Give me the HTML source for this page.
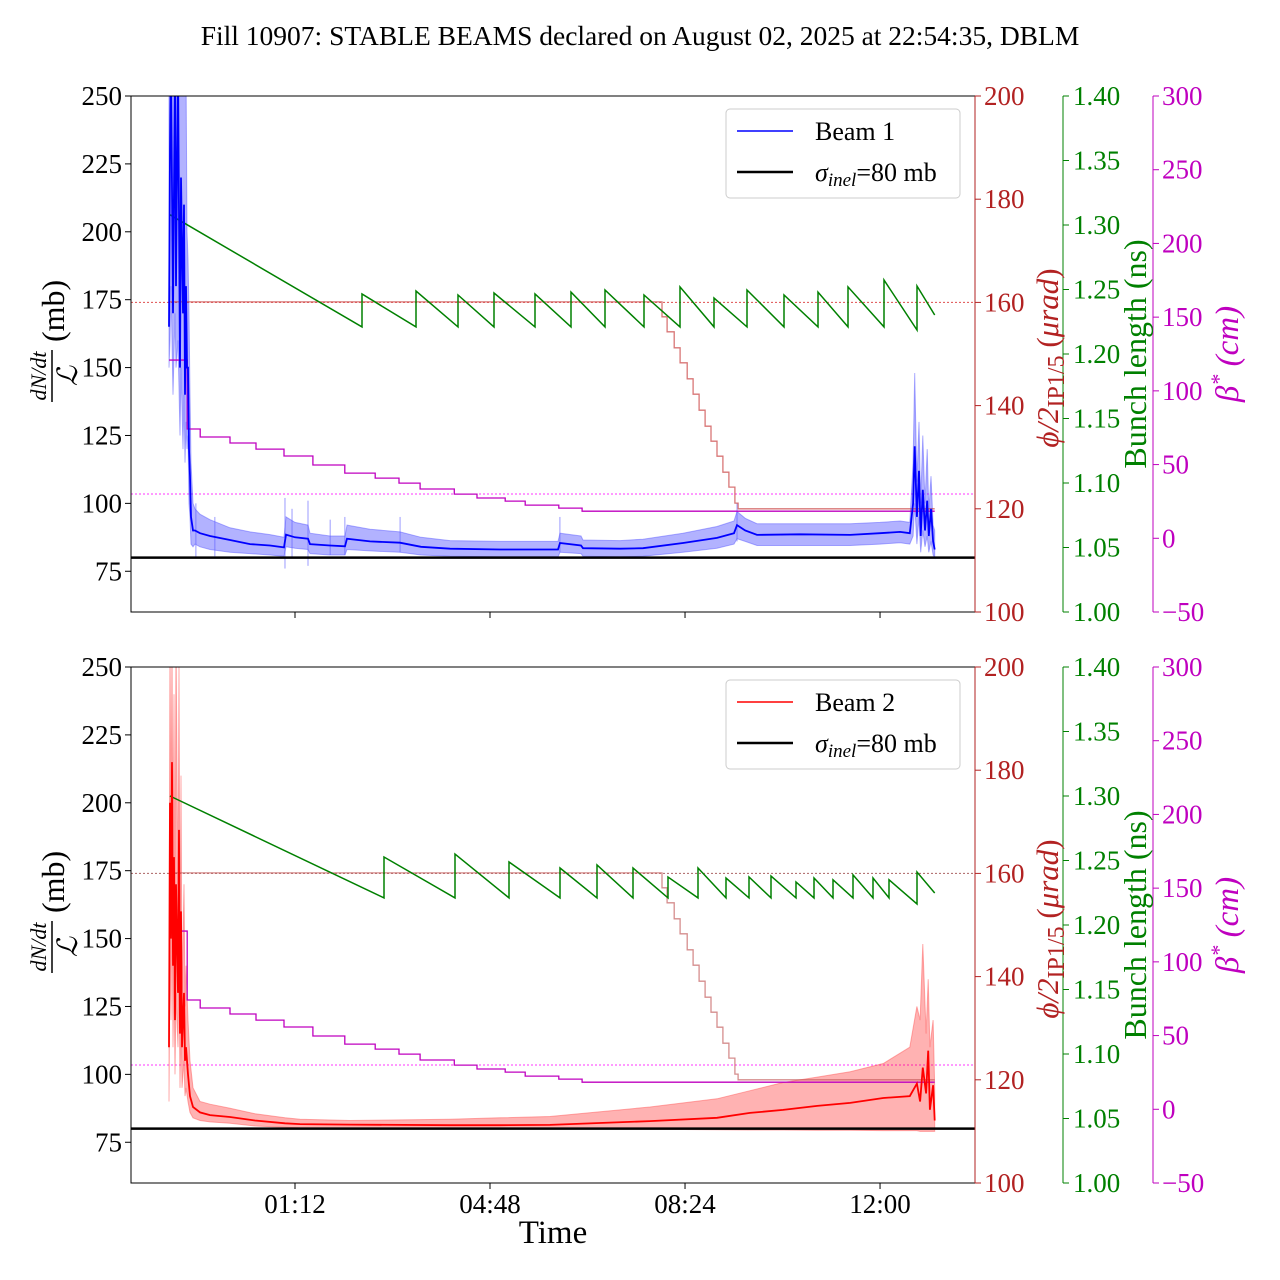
<!DOCTYPE html>
<html><head><meta charset="utf-8">
<style>
html,body{margin:0;padding:0;background:#fff;}
svg{display:block;font-family:"Liberation Serif","DejaVu Serif",serif;}
</style></head>
<body>
<svg id="chart" width="1280" height="1280" viewBox="0 0 1280 1280" xmlns="http://www.w3.org/2000/svg">
<text x="640" y="45" font-size="27.5" text-anchor="middle">Fill 10907: STABLE BEAMS declared on August 02, 2025 at 22:54:35, DBLM</text>
<text x="553" y="1243" font-size="33" text-anchor="middle">Time</text>
</svg>
<script>
// ---- data (time in hours relative to 00:00 of Aug 03) ----
const xTickHours = [1.2, 4.8, 8.4, 12.0];
const xTickLabels = ["01:12", "04:48", "08:24", "12:00"];
const leftTicks = [75, 100, 125, 150, 175, 200, 225, 250];
const phiTicks = [100, 120, 140, 160, 180, 200];
const blTicks = [1.00, 1.05, 1.10, 1.15, 1.20, 1.25, 1.30, 1.35, 1.40];
const betaTicks = [-50, 0, 50, 100, 150, 200, 250, 300];

const b1Time = [-1.126,-1.108,-1.089,-1.052,-1.015,-0.997,-0.960,-0.923,-0.904,-0.868,-0.849,-0.831,-0.812,-0.794,-0.775,-0.757,-0.738,-0.720,-0.683,
 -0.646,-0.554,-0.369,0.0,0.369,0.738,0.997,1.034,1.2,1.44,1.477,1.846,2.123,2.16,2.585,3.138,3.526,4.061,4.985,5.908,6.055,6.092,6.48,6.516,7.2,7.624,8.363,8.99,9.304,9.36,9.51,9.729,10.52,11.45,12.0,12.37,12.55,12.61,12.64,12.68,12.72,12.75,12.79,12.83,12.87,12.9,12.94,12.98,13.01];
const b1Mean = [165,230,262,170,262,180,262,150,220,170,210,140,180,150,150,120,110,95,90,
 90,89,88,86.5,85,84.5,83.8,88.5,87.5,87,85,84.5,84.2,87,86,85.5,84,83.3,83,83,83,85.4,84.5,83.5,83.3,83.5,85.4,87.3,89,92,90,88.4,88.6,88.4,89,89.5,89,100,121,95,112,88,105,90,101,88,98,86,83];
const b1Lo = [150,160,180,140,170,150,160,125,150,120,140,115,130,120,125,100,95,85,84,
 85,84,83,82,81.5,81,80.5,84,83.5,83,81.5,81,81,83,82.5,82,81,80.5,80.3,80.3,80.3,82,81.5,80.5,80.3,80.5,82,83.5,85,87,86,84.5,84.5,84.5,85,85.5,85,88,100,85,95,82,90,84,88,82,86,81,80];
const b1Hi = [262,262,262,262,262,262,262,262,262,262,262,262,262,200,190,170,140,115,100,
 98,96,94,91,89.5,88.5,87.5,95,93,92,89,88,88,92,90.5,89.5,87.5,86.3,86,86,86,89,88,86.5,86.3,86.8,89,91.5,93.5,97,94.5,92.5,92.5,92.5,93,93.5,93,115,148,108,130,100,125,100,120,97,110,92,90];
const b1SpikeTime = [-0.63,-0.28,1.015,1.145,1.44,1.85,2.12,3.14,6.09,9.36];
const b1SpikeHi = [100,95,102,98,101,94,95,95,95,100];
const b1SpikeLo = [80,80.5,76,80,77,81,81,82,82,86];

const r2Time = [-1.126,-1.108,-1.089,-1.071,-1.052,-1.034,-1.015,-0.997,-0.960,-0.941,-0.923,-0.904,-0.886,-0.849,-0.831,-0.812,-0.775,-0.738,-0.683,
 -0.554,-0.369,0.0,0.461,1.015,1.292,2.215,4.061,4.985,5.908,7.754,8.99,9.6,10.21,10.84,11.45,12.06,12.55,12.68,12.74,12.79,12.85,12.89,12.92,12.98,13.01];
const r2Mean = [110,200,150,215,140,180,120,170,130,190,115,160,110,130,105,110,100,92,88,
 86,85,84.3,83,82,81.7,81.5,81.3,81.3,81.4,82.8,84,85.8,86.9,88.4,89.5,91.3,92,96.6,90,102.5,93,108.7,87,96,83];
const r2Lo = [90,150,120,170,110,140,100,130,110,140,95,120,95,105,92,95,90,86,84,
 83,82.5,82,81,80.5,80.3,80.2,80,80,80,79.8,79.6,79.5,79.5,79.4,79.4,79.3,79.3,79.3,79,79,79,79,79,79,79];
const r2Hi = [130,262,180,262,170,240,150,262,160,250,140,210,130,170,125,140,120,105,95,
 90,89,87.5,85.5,84,83.5,83,83.5,84,84.5,88,91,94,97,99,101,104,110,125,120,148,115,135,110,120,95];

const g1Start = [-1.11, 1.308];
const g1Refill = [2.437,3.434,4.209,4.874,5.631,6.295,6.923,7.643,8.307,8.935,9.544,10.227,10.855,11.409,12.074,12.683];
const g1Trough = [1.221,1.221,1.221,1.221,1.221,1.221,1.221,1.221,1.221,1.221,1.221,1.221,1.221,1.221,1.221,1.2186];
const g1Peak = [1.2465,1.2488,1.2457,1.2473,1.2465,1.248,1.2496,1.2457,1.252,1.2434,1.2496,1.2457,1.248,1.252,1.2574,1.2527];
const g1End = [13.01, 1.2302];

const g2Start = [-1.11, 1.300];
const g2Refill = [2.843,4.154,5.151,6.092,6.775,7.44,8.086,8.64,9.157,9.581,9.987,10.449,10.781,11.132,11.501,11.870,12.166,12.683];
const g2Trough = [1.221,1.221,1.221,1.221,1.221,1.221,1.221,1.221,1.221,1.221,1.221,1.221,1.221,1.221,1.221,1.221,1.221,1.2163];
const g2Peak = [1.2527,1.255,1.2488,1.2442,1.2465,1.2442,1.2372,1.2442,1.2364,1.2372,1.238,1.2333,1.2364,1.235,1.2388,1.2364,1.235,1.2411];
const g2End = [13.01, 1.2248];

const betaTime = [-1.126,-0.79,-0.55,0.0,0.48,0.997,1.53,2.12,2.68,3.12,3.51,4.14,4.56,5.08,5.45,6.07,6.50,13.01];
const betaVal = [120.9,74.1,68.7,64.6,60.5,55.8,49.7,44.2,40.8,37.4,33.4,30.0,27.3,25.2,22.5,20.5,18.4,18.4];

const phiTime = [-1.126,7.975,8.07,8.20,8.31,8.44,8.55,8.66,8.77,8.88,8.99,9.10,9.21,9.32,9.38,13.01];
const phiVal = [160.1,157.2,154.3,151.2,148.3,145.2,142.2,139.1,136.0,133.1,130.2,127.1,124.2,121.1,120.0,120.0];

const sigmaInel = 80;
const phiRef = 160;
const betaRef = 30;

// ---- layout ----
const NS = "http://www.w3.org/2000/svg";
const svg = document.getElementById("chart");
const XL = 131, XR = 975;
const panels = [
  {top:96, bottom:612, name:"beam1", color:"#0000ff", band:"rgba(0,0,255,0.3)", bandEdge:"rgba(80,80,255,0.45)", t:b1Time, m:b1Mean, lo:b1Lo, hi:b1Hi, g:[g1Start,g1Refill,g1Trough,g1Peak,g1End], label:"Beam 1", phiColor:"rgba(200,60,60,0.7)", dotColor:"rgba(220,60,60,0.9)"},
  {top:667, bottom:1183, name:"beam2", color:"#ff0000", band:"rgba(255,0,0,0.3)", bandEdge:"rgba(255,90,90,0.5)", t:r2Time, m:r2Mean, lo:r2Lo, hi:r2Hi, g:[g2Start,g2Refill,g2Trough,g2Peak,g2End], label:"Beam 2", phiColor:"rgba(190,80,80,0.65)", dotColor:"rgba(150,60,60,0.8)"}
];
const xS = h => 295 + (h - 1.2) * 54.17;
function mk(tag, attrs, parent){ const e=document.createElementNS(NS,tag); for(const k in attrs) e.setAttribute(k,attrs[k]); (parent||svg).appendChild(e); return e; }
const RED="#b22222", GREEN="#008000", MAG="#bf00bf";
const TF = 27;

panels.forEach((P, pi) => {
  const H = P.bottom - P.top;
  const yL = v => P.bottom - (v - 60) * (H / 190);
  const yPhi = v => P.bottom - (v - 100) * (H / 100);
  const yBL = v => P.bottom - (v - 1.0) * (H / 0.4);
  const yB = v => P.bottom - (v + 50) * (H / 350);

  const clipId = "clip" + pi;
  const cp = mk("clipPath", {id: clipId});
  mk("rect", {x: XL, y: P.top, width: XR - XL, height: H}, cp);
  const g = mk("g", {"clip-path": "url(#" + clipId + ")"});
  
  

  const d1 = mk("line", {x1:XL, x2:XR, y1:yPhi(phiRef), y2:yPhi(phiRef), stroke:P.dotColor, "stroke-width":1, "stroke-dasharray":"2,2"}, g);
  
  
  const d2 = mk("line", {x1:XL, x2:XR, y1:yB(betaRef), y2:yB(betaRef), stroke:"#ff33ff", "stroke-width":1, "stroke-dasharray":"2,2"}, g);
  
  

  let bp = "";
  P.t.forEach((t,i)=>{ bp += (i?"L":"M") + xS(t).toFixed(1) + "," + yL(P.hi[i]).toFixed(1); });
  for (let i=P.t.length-1;i>=0;i--) bp += "L" + xS(P.t[i]).toFixed(1) + "," + yL(P.lo[i]).toFixed(1);
  const band = mk("path", {d: bp + "Z", fill: P.band, stroke: P.bandEdge, "stroke-width": 1}, g);
  
  
  if (pi === 0) {
    b1SpikeTime.forEach((t,i)=>{
      const s = mk("line", {x1:xS(t), x2:xS(t), y1:yL(b1SpikeHi[i]), y2:yL(b1SpikeLo[i]), stroke:"rgba(90,90,255,0.5)", "stroke-width":1.2}, g);
      
      
    });
  }

  let pp = "M" + xS(phiTime[0]) + "," + yPhi(phiVal[0]);
  for (let i=1;i<phiTime.length;i++) pp += "L" + xS(phiTime[i]).toFixed(1) + "," + yPhi(phiVal[i-1]).toFixed(1) + "L" + xS(phiTime[i]).toFixed(1) + "," + yPhi(phiVal[i]).toFixed(1);
  const phiL = mk("path", {d: pp, fill:"none", stroke:P.phiColor, "stroke-width":1.3}, g);
  
  

  let bep = "M" + xS(betaTime[0]) + "," + yB(betaVal[0]);
  for (let i=1;i<betaTime.length;i++) bep += "L" + xS(betaTime[i]).toFixed(1) + "," + yB(betaVal[i-1]).toFixed(1) + "L" + xS(betaTime[i]).toFixed(1) + "," + yB(betaVal[i]).toFixed(1);
  const betaL = mk("path", {d: bep, fill:"none", stroke:MAG, "stroke-width":1.3}, g);
  
  

  const [gs, gr, gt, gpk, ge] = P.g;
  let gp = "M" + xS(gs[0]).toFixed(1) + "," + yBL(gs[1]).toFixed(1);
  gr.forEach((t,i)=>{ gp += "L" + xS(t).toFixed(1) + "," + yBL(gt[i]).toFixed(1) + "L" + xS(t).toFixed(1) + "," + yBL(gpk[i]).toFixed(1); });
  gp += "L" + xS(ge[0]).toFixed(1) + "," + yBL(ge[1]).toFixed(1);
  const gl = mk("path", {d: gp, fill:"none", stroke:GREEN, "stroke-width":1.5}, g);
  
  

  let mp = "";
  P.t.forEach((t,i)=>{ mp += (i?"L":"M") + xS(t).toFixed(1) + "," + yL(P.m[i]).toFixed(1); });
  const ml = mk("path", {d: mp, fill:"none", stroke:P.color, "stroke-width":1.8}, g);
  
  

  const sl = mk("line", {x1:XL, x2:XR, y1:yL(sigmaInel), y2:yL(sigmaInel), stroke:"#000", "stroke-width":2.5}, g);
  
  

  const fr = mk("rect", {x:XL, y:P.top, width:XR-XL, height:H, fill:"none", stroke:"#000", "stroke-width":1});
  
  

  leftTicks.forEach(v=>{
    mk("line",{x1:XL-6,x2:XL,y1:yL(v),y2:yL(v),stroke:"#000"});
    const t = mk("text",{x:XL-9,y:yL(v)+9,"font-size":TF,"text-anchor":"end"});
    t.textContent = v;
    
    
  });
  xTickHours.forEach((h,i)=>{
    mk("line",{x1:xS(h),x2:xS(h),y1:P.bottom,y2:P.bottom+6,stroke:"#000"});
    if (pi===1){
      const t = mk("text",{x:xS(h),y:P.bottom+30,"font-size":TF,"text-anchor":"middle"});
      t.textContent = xTickLabels[i];
      
      
    }
  });
  const pa = mk("line",{x1:XR,x2:XR,y1:P.top,y2:P.bottom,stroke:RED,"stroke-width":1});
  
  
  phiTicks.forEach(v=>{
    mk("line",{x1:XR,x2:XR+6,y1:yPhi(v),y2:yPhi(v),stroke:RED});
    const t = mk("text",{x:XR+9,y:yPhi(v)+9,"font-size":TF,fill:RED});
    t.textContent = v;
    
    
  });
  const XG = 1063;
  const ga = mk("line",{x1:XG,x2:XG,y1:P.top,y2:P.bottom,stroke:GREEN});
  
  
  blTicks.forEach(v=>{
    mk("line",{x1:XG,x2:XG+6,y1:yBL(v),y2:yBL(v),stroke:GREEN});
    const t = mk("text",{x:XG+10,y:yBL(v)+9,"font-size":TF,fill:GREEN});
    t.textContent = v.toFixed(2);
    
    
  });
  const XM = 1153;
  const ba = mk("line",{x1:XM,x2:XM,y1:P.top,y2:P.bottom,stroke:MAG});
  
  
  betaTicks.forEach(v=>{
    mk("line",{x1:XM,x2:XM+6,y1:yB(v),y2:yB(v),stroke:MAG});
    const t = mk("text",{x:XM+9,y:yB(v)+9,"font-size":TF,fill:MAG});
    t.textContent = v < 0 ? "\u2212" + Math.abs(v) : v;
    
    
  });

  const cy = (P.top + P.bottom) / 2;
  const ll = mk("g",{transform:"translate(52," + cy + ") rotate(-90)"});
  
  
  const num = mk("text",{x:-22,y:-6,"font-size":22,"font-style":"italic","text-anchor":"middle"},ll); num.textContent="dN/dt";
  mk("line",{x1:-48,x2:4,y1:0,y2:0,stroke:"#000","stroke-width":1.5},ll);
  const den = mk("text",{x:-22,y:25,"font-size":28,"font-style":"italic","text-anchor":"middle"},ll); den.textContent="\u2112";
  const mb = mk("text",{x:12,y:12,"font-size":32},ll); mb.textContent="(mb)";

  const pl = mk("text",{transform:"translate(1058," + (cy+4) + ") rotate(-90)","font-size":31,fill:RED,"text-anchor":"middle"});
  
  
  pl.innerHTML = '<tspan font-style="italic">\u03d5/2</tspan><tspan font-size="24" dy="6">IP1/5</tspan><tspan dy="-6"> (</tspan><tspan font-style="italic">\u03bcrad</tspan><tspan>)</tspan>';
  const bl = mk("text",{transform:"translate(1146," + cy + ") rotate(-90)","font-size":32,fill:GREEN,"text-anchor":"middle"});
  
  
  bl.textContent = "Bunch length (ns)";
  const be = mk("text",{transform:"translate(1238," + cy + ") rotate(-90)","font-size":33,fill:MAG,"text-anchor":"middle","font-style":"italic"});
  
  
  be.innerHTML = '\u03b2<tspan font-size="22" dy="-12">*</tspan><tspan dy="12"> (cm)</tspan>';

  const lg = mk("g",{});
  
  
  const lt = P.top + 13;
  mk("rect",{x:726,y:lt,width:234,height:89,rx:4,fill:"rgba(255,255,255,0.85)",stroke:"#ccc"},lg);
  mk("line",{x1:737,x2:793,y1:lt+22,y2:lt+22,stroke:P.color,"stroke-width":1.5},lg);
  const e1 = mk("text",{x:815,y:lt+31,"font-size":26},lg); e1.textContent = P.label;
  
  
  mk("line",{x1:737,x2:793,y1:lt+63,y2:lt+63,stroke:"#000","stroke-width":2.5},lg);
  const e2 = mk("text",{x:815,y:lt+72,"font-size":26},lg);
  e2.innerHTML = '<tspan font-style="italic">\u03c3</tspan><tspan font-size="19" font-style="italic" dy="5">inel</tspan><tspan dy="-5">=80 mb</tspan>';
  
  
});
</script>
</body></html>
